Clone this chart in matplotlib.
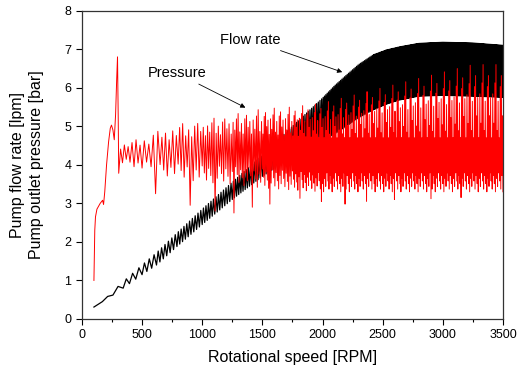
import matplotlib.pyplot as plt
import numpy as np

plt.rcParams['font.family'] = ['Liberation Sans', 'DejaVu Sans']

# ---- flow rate (black): envelope ----
flow_rpm = [100, 170, 258, 343, 500, 620, 790, 1000, 1250, 1500, 1750, 2000,
            2100, 2200, 2300, 2420, 2530, 2640, 2800, 3000, 3250, 3500]
flow_upper = [0.31, 0.45, 0.72, 0.97, 1.40, 1.72, 2.23, 2.85, 3.55, 4.25, 5.00,
              5.73, 6.05, 6.33, 6.60, 6.85, 6.98, 7.06, 7.15, 7.18, 7.16, 7.10]
flow_lower = [0.31, 0.45, 0.62, 0.80, 1.15, 1.40, 1.88, 2.45, 3.10, 3.70, 4.20,
              4.60, 4.80, 5.00, 5.22, 5.42, 5.57, 5.68, 5.78, 5.80, 5.78, 5.75]
# number of oscillations between neighbouring knots
flow_teeth = [0, 1, 1, 3, 3, 6, 9, 12, 14, 16, 18, 9, 9, 9, 11, 11, 11, 20, 25, 30, 30]

# ---- pressure (red) ----
p_start_rpm = [100, 103, 107, 113, 125, 152, 172, 180, 190, 205, 222, 236,
               246, 258, 269, 280, 289, 296, 302, 306]
p_start_val = [1.0, 1.6, 2.3, 2.65, 2.85, 3.0, 3.08, 2.97, 3.3, 4.0, 4.6, 4.95,
               5.03, 4.9, 4.65, 5.3, 6.2, 6.8, 5.2, 3.78]

p_rpm = [306, 400, 500, 650, 800, 1000, 1250, 1500, 1750, 2000, 2250, 2500,
         2750, 3000, 3250, 3500]
p_spike = [4.55, 4.60, 4.70, 4.95, 5.05, 5.15, 5.30, 5.45, 5.50, 5.60, 5.80,
           6.00, 6.20, 6.40, 6.60, 6.60]
p_mid = [4.40, 4.45, 4.50, 4.60, 4.70, 4.75, 4.80, 4.80, 4.75, 4.70, 4.70,
         4.70, 4.70, 4.70, 4.70, 4.70]
p_low = [4.05, 4.00, 3.85, 3.75, 3.65, 3.55, 3.50, 3.40, 3.35, 3.30, 3.30,
         3.30, 3.30, 3.30, 3.30, 3.30]
p_teeth = [3, 3, 4, 5, 8, 14, 18, 24, 28, 28, 28, 28, 28, 28, 28]
# relative height of successive peaks / troughs
peak_pattern = [0.0, 0.6, 0.2, 0.75, 1.0, 0.1, 0.5, 0.0, 0.7, 0.85, 0.3, 0.55]
trough_pattern = [0.2, 0.05, 0.3, 0.15, 0.0, 0.25, 0.1, 0.35]
# isolated deep dips
dip_rpm = [629, 898, 1110, 1270, 1420, 1563, 1812, 1995, 2186, 2369, 2600, 2900, 3150]
dip_val = [3.25, 2.95, 2.80, 2.75, 2.90, 2.98, 3.13, 3.05, 2.98, 3.05, 3.10, 3.12, 3.15]


def zigzag(knots, hi, lo, teeth, pk=None, tr=None, mid=None):
    xs, ys, kind = [], [], []
    ip, it = 0, 0
    for i in range(len(knots) - 1):
        n = teeth[i]
        if n == 0:
            xs.append(knots[i]); ys.append(np.interp(knots[i], knots, hi)); kind.append(0)
            continue
        for j in range(2 * n):
            x = knots[i] + (knots[i + 1] - knots[i]) * j / (2 * n)
            h = np.interp(x, knots, hi)
            l = np.interp(x, knots, lo)
            if j % 2 == 0:
                if tr is not None:
                    m = np.interp(x, knots, mid)
                    y = l + (m - l) * tr[it % len(tr)]
                    it += 1
                else:
                    y = l
                kind.append(-1)
            else:
                if pk is not None:
                    m = np.interp(x, knots, mid)
                    y = m + (h - m) * pk[ip % len(pk)]
                    ip += 1
                else:
                    y = h
                kind.append(1)
            xs.append(x); ys.append(y)
    xs.append(knots[-1]); ys.append(np.interp(knots[-1], knots, lo)); kind.append(0)
    return np.array(xs), np.array(ys), np.array(kind)


fx, fy, _ = zigzag(flow_rpm, flow_upper, flow_lower, flow_teeth)
px, py, pkind = zigzag(p_rpm, p_spike, p_low, p_teeth, peak_pattern, trough_pattern, p_mid)
troughs = np.where(pkind == -1)[0]
for r, v in zip(dip_rpm, dip_val):
    k = troughs[np.argmin(np.abs(px[troughs] - r))]
    py[k] = v
px = np.concatenate([p_start_rpm, px[1:]])
py = np.concatenate([p_start_val, py[1:]])

fig = plt.figure(figsize=(5.25, 3.72), dpi=100)
ax = fig.add_axes([0.156, 0.1425, 0.802, 0.829])
ax.plot(fx, fy, color='black', linewidth=0.9)
ax.plot(px, py, color='red', linewidth=0.7)

ax.set_xlim(0, 3500)
ax.set_ylim(0, 8)
ax.set_xticks(np.arange(0, 3501, 500))
ax.set_xticks(np.arange(250, 3500, 500), minor=True)
ax.set_yticks(np.arange(0, 9, 1))
ax.tick_params(direction='out', labelsize=9, length=4, width=0.8, top=False, right=False)
ax.tick_params(which='minor', direction='out', length=2.5, width=0.8)
for s in ax.spines.values():
    s.set_linewidth(0.9)
    s.set_color('#333333')

ax.set_xlabel('Rotational speed [RPM]', fontsize=11.5, labelpad=6)
ax.set_ylabel('Pump flow rate [lpm]\nPump outlet pressure [bar]', fontsize=11.5,
              labelpad=15, linespacing=1.3)

arrow = dict(arrowstyle='-|>', color='black', lw=0.6, mutation_scale=7)
ax.annotate('Flow rate', xy=(2186, 6.38), xytext=(1396, 7.24), fontsize=10.5,
            ha='center', va='center', arrowprops=arrow)
ax.annotate('Pressure', xy=(1380, 5.45), xytext=(790, 6.38), fontsize=10.5,
            ha='center', va='center', arrowprops=arrow)

fig.savefig('out.png', dpi=100)
